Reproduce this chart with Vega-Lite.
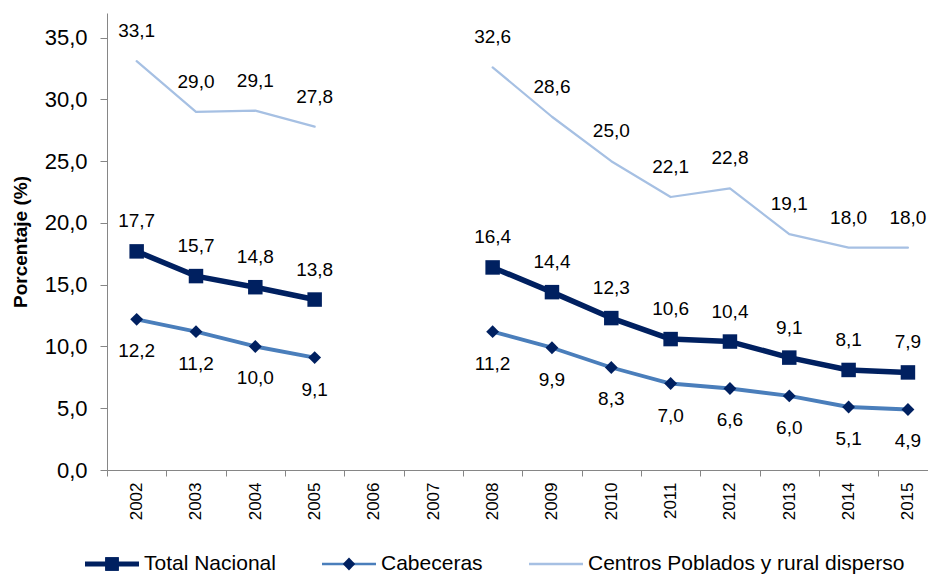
{
  "$schema": "https://vega.github.io/schema/vega-lite/v6.json",
  "width": 821,
  "height": 457,
  "autosize": {"type": "none"},
  "padding": {"left": 107, "top": 13, "right": 0, "bottom": 105},
  "config": {
    "locale": {"number": {"decimal": ",", "thousands": ".", "grouping": [3], "currency": ["$", ""]}},
    "view": {"stroke": null},
    "font": "Liberation Sans",
    "axis": {"grid": false, "domainColor": "#868686", "tickColor": "#868686", "labelColor": "#000000", "labelFont": "Liberation Sans", "titleFont": "Liberation Sans", "titleColor": "#000000"}
  },
  "resolve": {"scale": {"color": "independent", "shape": "independent"}, "legend": {"color": "independent", "shape": "independent"}},
  "layer": [
    {
      "data": {"values": [
        {"anio": "2002", "Total Nacional": 17.7, "Cabeceras": 12.2, "Centros Poblados y rural disperso": 33.1},
        {"anio": "2003", "Total Nacional": 15.7, "Cabeceras": 11.2, "Centros Poblados y rural disperso": 29.0},
        {"anio": "2004", "Total Nacional": 14.8, "Cabeceras": 10.0, "Centros Poblados y rural disperso": 29.1},
        {"anio": "2005", "Total Nacional": 13.8, "Cabeceras": 9.1, "Centros Poblados y rural disperso": 27.8},
        {"anio": "2006", "Total Nacional": null, "Cabeceras": null, "Centros Poblados y rural disperso": null},
        {"anio": "2007", "Total Nacional": null, "Cabeceras": null, "Centros Poblados y rural disperso": null},
        {"anio": "2008", "Total Nacional": 16.4, "Cabeceras": 11.2, "Centros Poblados y rural disperso": 32.6},
        {"anio": "2009", "Total Nacional": 14.4, "Cabeceras": 9.9, "Centros Poblados y rural disperso": 28.6},
        {"anio": "2010", "Total Nacional": 12.3, "Cabeceras": 8.3, "Centros Poblados y rural disperso": 25.0},
        {"anio": "2011", "Total Nacional": 10.6, "Cabeceras": 7.0, "Centros Poblados y rural disperso": 22.1},
        {"anio": "2012", "Total Nacional": 10.4, "Cabeceras": 6.6, "Centros Poblados y rural disperso": 22.8},
        {"anio": "2013", "Total Nacional": 9.1, "Cabeceras": 6.0, "Centros Poblados y rural disperso": 19.1},
        {"anio": "2014", "Total Nacional": 8.1, "Cabeceras": 5.1, "Centros Poblados y rural disperso": 18.0},
        {"anio": "2015", "Total Nacional": 7.9, "Cabeceras": 4.9, "Centros Poblados y rural disperso": 18.0}
      ]},
      "transform": [{"fold": ["Total Nacional", "Cabeceras", "Centros Poblados y rural disperso"], "as": ["serie", "valor"]}],
      "encoding": {
        "x": {
          "field": "anio", "type": "ordinal",
          "scale": {"type": "band", "domain": ["2002","2003","2004","2005","2006","2007","2008","2009","2010","2011","2012","2013","2014","2015"], "range": [0, 830.6], "paddingInner": 0, "paddingOuter": 0},
          "axis": {"title": null, "labelAngle": -90, "labelFontSize": 17, "tickSize": 6, "labelPadding": 6, "tickBand": "extent"}
        },
        "y": {
          "field": "valor", "type": "quantitative",
          "scale": {"domain": [0, 37], "nice": false},
          "axis": {"title": "Porcentaje (%)", "values": [0, 5, 10, 15, 20, 25, 30, 35], "format": ".1f", "labelFontSize": 22, "tickSize": 7, "labelPadding": 13, "titleFontSize": 19, "titleFontWeight": "bold", "titlePadding": 14}
        }
      },
      "layer": [
        {
          "mark": {"type": "line", "invalid": "break-paths-show-domains", "strokeJoin": "round", "strokeCap": "round"},
          "encoding": {
            "color": {"field": "serie", "type": "nominal", "scale": {"domain": ["Total Nacional", "Cabeceras", "Centros Poblados y rural disperso"], "range": ["#002060", "#4A7EBB", "#A6C0E3"]}, "legend": null},
            "strokeWidth": {"field": "serie", "type": "ordinal", "scale": {"domain": ["Total Nacional", "Cabeceras", "Centros Poblados y rural disperso"], "range": [5.5, 2.2, 2.5]}, "legend": null}
          }
        },
        {
          "transform": [{"filter": "datum.serie == 'Total Nacional' && datum.valor != null"}],
          "mark": {"type": "point", "shape": "square", "filled": true, "opacity": 1, "size": 210, "color": "#002060"}
        },
        {
          "transform": [{"filter": "datum.serie == 'Cabeceras' && datum.valor != null"}],
          "mark": {"type": "point", "shape": "diamond", "filled": true, "opacity": 1, "size": 165, "color": "#002060"}
        },
        {
          "transform": [{"filter": "datum.serie != 'Cabeceras' && datum.valor != null"}],
          "mark": {"type": "text", "dy": -30, "fontSize": 19, "font": "Liberation Sans", "color": "#000000"},
          "encoding": {"text": {"field": "valor", "type": "quantitative", "format": ".1f"}}
        },
        {
          "transform": [{"filter": "datum.serie == 'Cabeceras' && datum.valor != null"}],
          "mark": {"type": "text", "dy": 32, "fontSize": 19, "font": "Liberation Sans", "color": "#000000"},
          "encoding": {"text": {"field": "valor", "type": "quantitative", "format": ".1f"}}
        }
      ]
    },
    {
      "data": {"values": [
        {"leyenda": "Total Nacional"},
        {"leyenda": "Cabeceras"},
        {"leyenda": "Centros Poblados y rural disperso"}
      ]},
      "mark": {"type": "point", "filled": true, "opacity": 0},
      "encoding": {
        "color": {
          "field": "leyenda", "type": "nominal",
          "scale": {"domain": ["Total Nacional", "Cabeceras", "Centros Poblados y rural disperso"], "range": ["#002060", "#4A7EBB", "#A6C0E3"]},
          "legend": {"orient": "none", "legendX": -22, "legendY": 524, "direction": "horizontal", "title": null, "symbolSize": 2916, "symbolStrokeWidth": 0, "symbolOpacity": 1, "labelFontSize": 21, "labelFont": "Liberation Sans", "labelColor": "#000000", "labelOffset": 5, "columnPadding": 46, "padding": 0, "labelLimit": 1000}
        },
        "shape": {
          "field": "leyenda", "type": "nominal",
          "scale": {"domain": ["Total Nacional", "Cabeceras", "Centros Poblados y rural disperso"], "range": [
            "M-1,-0.095H1V0.095H-1Z M-0.25,-0.25H0.25V0.25H-0.25Z",
            "M-1,-0.042H1V0.042H-1Z",
            "M-1,-0.05H1V0.05H-1Z"
          ]},
          "legend": {"orient": "none", "legendX": -22, "legendY": 524, "direction": "horizontal", "title": null, "symbolSize": 2916, "symbolStrokeWidth": 0, "symbolOpacity": 1, "labelFontSize": 21, "labelFont": "Liberation Sans", "labelColor": "#000000", "labelOffset": 5, "columnPadding": 46, "padding": 0, "labelLimit": 1000}
        }
      }
    },
    {
      "data": {"values": [
        {"marcador": "Total Nacional"},
        {"marcador": "Cabeceras"},
        {"marcador": "Centros Poblados y rural disperso"}
      ]},
      "mark": {"type": "point", "filled": true, "opacity": 0, "color": "#002060"},
      "encoding": {
        "shape": {
          "field": "marcador", "type": "nominal",
          "scale": {"domain": ["Total Nacional", "Cabeceras", "Centros Poblados y rural disperso"], "range": [
            "M-0.25,-0.25H0.25V0.25H-0.25Z",
            "M0,-0.24L0.23,0L0,0.24L-0.23,0Z",
            "M-0.001,-0.001H0.001V0.001H-0.001Z"
          ]},
          "legend": {"orient": "none", "legendX": -22, "legendY": 524, "direction": "horizontal", "title": null, "symbolSize": 2916, "symbolStrokeWidth": 0, "symbolOpacity": 1, "symbolFillColor": "#002060", "labelFontSize": 21, "labelFont": "Liberation Sans", "labelColor": "#000000", "labelOpacity": 0, "labelOffset": 5, "columnPadding": 46, "padding": 0, "labelLimit": 1000}
        }
      }
    }
  ]
}
